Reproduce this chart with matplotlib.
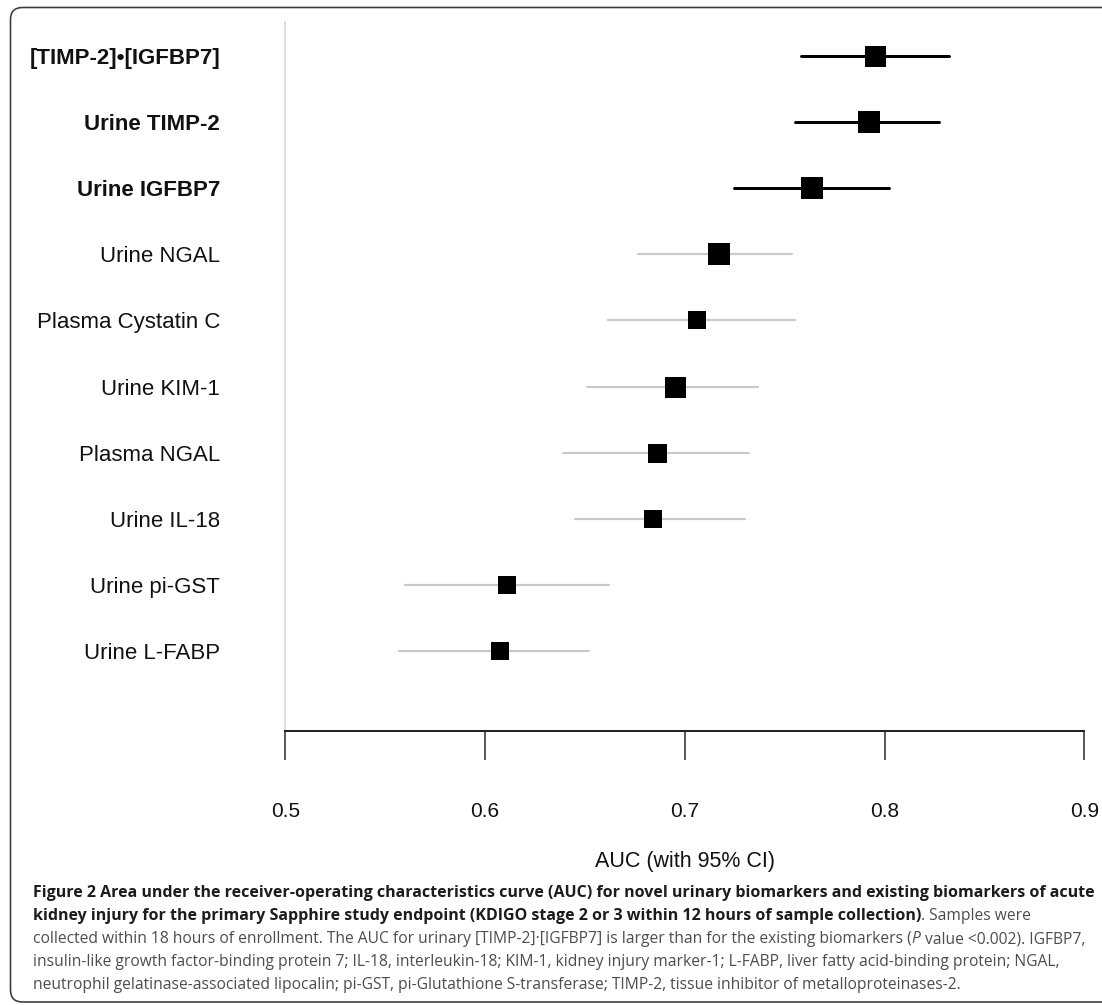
import matplotlib
matplotlib.use("Agg")
import matplotlib.pyplot as plt
from matplotlib.patches import FancyBboxPatch
from matplotlib.transforms import IdentityTransform

# ---------------- data ----------------
biomarkers = ["[TIMP-2]•[IGFBP7]", "Urine TIMP-2", "Urine IGFBP7", "Urine NGAL",
              "Plasma Cystatin C", "Urine KIM-1", "Plasma NGAL", "Urine IL-18",
              "Urine pi-GST", "Urine L-FABP"]
auc = [0.795, 0.792, 0.7635, 0.717, 0.706, 0.695, 0.686, 0.684, 0.611, 0.6075]
ci_low = [0.758, 0.755, 0.7245, 0.6766, 0.6617, 0.651, 0.639, 0.645, 0.560, 0.557]
ci_high = [0.832, 0.827, 0.802, 0.7536, 0.7552, 0.7366, 0.732, 0.730, 0.662, 0.652]
novel = [True, True, True, False, False, False, False, False, False, False]
xticks = [0.5, 0.6, 0.7, 0.8, 0.9]
xtick_labels = ["0.5", "0.6", "0.7", "0.8", "0.9"]
xlabel = "AUC (with 95% CI)"

# ---------------- style ----------------
W, H = 1102, 1005
PX = 72.0 / 100.0  # points per pixel
marker_px = [21, 22, 22, 22, 18, 21, 19, 18, 18, 18]
label_font = "Liberation Sans"
cap_fonts = ["Open Sans", "DejaVu Sans"]

fig = plt.figure(figsize=(W / 100, H / 100), dpi=100)
fig.patch.set_facecolor("white")

ax = fig.add_axes([285.2 / W, (H - 731) / H, (1084.4 - 285.2) / W, (731 - 22) / H])
ax.set_xlim(0.5, 0.9)
ax.set_ylim(10.21, -0.514)

for i in range(len(biomarkers)):
    if novel[i]:
        col, lw = "black", 3.0 * PX
    else:
        col, lw = "#c9c9c9", 2.2 * PX
    ax.plot([ci_low[i], ci_high[i]], [i, i], color=col, lw=lw,
            solid_capstyle="round", zorder=2)
    ax.plot([auc[i]], [i], marker="s", ms=marker_px[i] * PX, color="black",
            mec="black", mew=0, zorder=3)

for s in ["top", "right"]:
    ax.spines[s].set_visible(False)
ax.spines["left"].set_color("#dedede")
ax.spines["left"].set_linewidth(2 * PX)
ax.spines["bottom"].set_color("#222222")
ax.spines["bottom"].set_linewidth(2 * PX)

ax.set_xticks(xticks)
ax.set_xticklabels(xtick_labels, fontsize=15, family=label_font, color="#111111")
ax.tick_params(axis="x", direction="out", length=29 * PX, width=1.6 * PX,
               color="#333333", pad=30)

ax.set_yticks(range(len(biomarkers)))
ax.set_yticklabels(biomarkers, fontsize=16, family=label_font, color="#111111")
for lab, b in zip(ax.get_yticklabels(), novel):
    if b:
        lab.set_fontweight("bold")
ax.tick_params(axis="y", length=0, pad=65 * PX)

ax.set_xlabel(xlabel, fontsize=15.5, family=label_font, color="#111111", labelpad=22)

# ---------------- frame ----------------
frame = FancyBboxPatch((10.5, 3), 1120, 994.5, boxstyle="round,pad=0,rounding_size=12",
                       transform=IdentityTransform(), fill=False, ec="#3a3a3a",
                       lw=1.6 * PX, clip_on=False)
fig.patches.append(frame)

# ---------------- caption ----------------
renderer = fig.canvas.get_renderer()
SIZE_REG = 11.25
SIZE_BOLD = 11.55
BOLD_COL = "#1c1c1c"
REG_COL = "#4d4d4d"


def fsize(weight):
    return SIZE_BOLD if weight == "bold" else SIZE_REG


def space_width(weight, style):
    t1 = fig.text(0, 0, "x x", fontsize=fsize(weight), family=cap_fonts, fontweight=weight,
                  style=style, transform=IdentityTransform())
    t2 = fig.text(0, 0, "xx", fontsize=fsize(weight), family=cap_fonts, fontweight=weight,
                  style=style, transform=IdentityTransform())
    w = t1.get_window_extent(renderer).width - t2.get_window_extent(renderer).width
    t1.remove()
    t2.remove()
    return w


def draw_line(segments, x0, ytop):
    x = x0
    y = H - ytop
    for txt, weight, style, col in segments:
        n_lead = len(txt) - len(txt.lstrip(" "))
        if n_lead:
            x += n_lead * space_width(weight, style)
        t = fig.text(x, y, txt.lstrip(" "), fontsize=fsize(weight), family=cap_fonts,
                     fontweight=weight, style=style, color=col, va="center", ha="left",
                     transform=IdentityTransform())
        x = t.get_window_extent(renderer).x1


caption = [
    [("Figure 2 Area under the receiver-operating characteristics curve (AUC) for novel urinary biomarkers and existing biomarkers of acute", "bold", "normal", BOLD_COL)],
    [("kidney injury for the primary Sapphire study endpoint (KDIGO stage 2 or 3 within 12 hours of sample collection)", "bold", "normal", BOLD_COL),
     (". Samples were", "normal", "normal", REG_COL)],
    [("collected within 18 hours of enrollment. The AUC for urinary [TIMP-2]·[IGFBP7] is larger than for the existing biomarkers (", "normal", "normal", REG_COL),
     ("P", "normal", "italic", REG_COL),
     (" value <0.002). IGFBP7,", "normal", "normal", REG_COL)],
    [("insulin-like growth factor-binding protein 7; IL-18, interleukin-18; KIM-1, kidney injury marker-1; L-FABP, liver fatty acid-binding protein; NGAL,", "normal", "normal", REG_COL)],
    [("neutrophil gelatinase-associated lipocalin; pi-GST, pi-Glutathione S-transferase; TIMP-2, tissue inhibitor of metalloproteinases-2.", "normal", "normal", REG_COL)],
]
cap_y = [893, 916, 939, 962, 985]
for segs, yy in zip(caption, cap_y):
    draw_line(segs, 33, yy)

fig.savefig("out.png", dpi=100)
